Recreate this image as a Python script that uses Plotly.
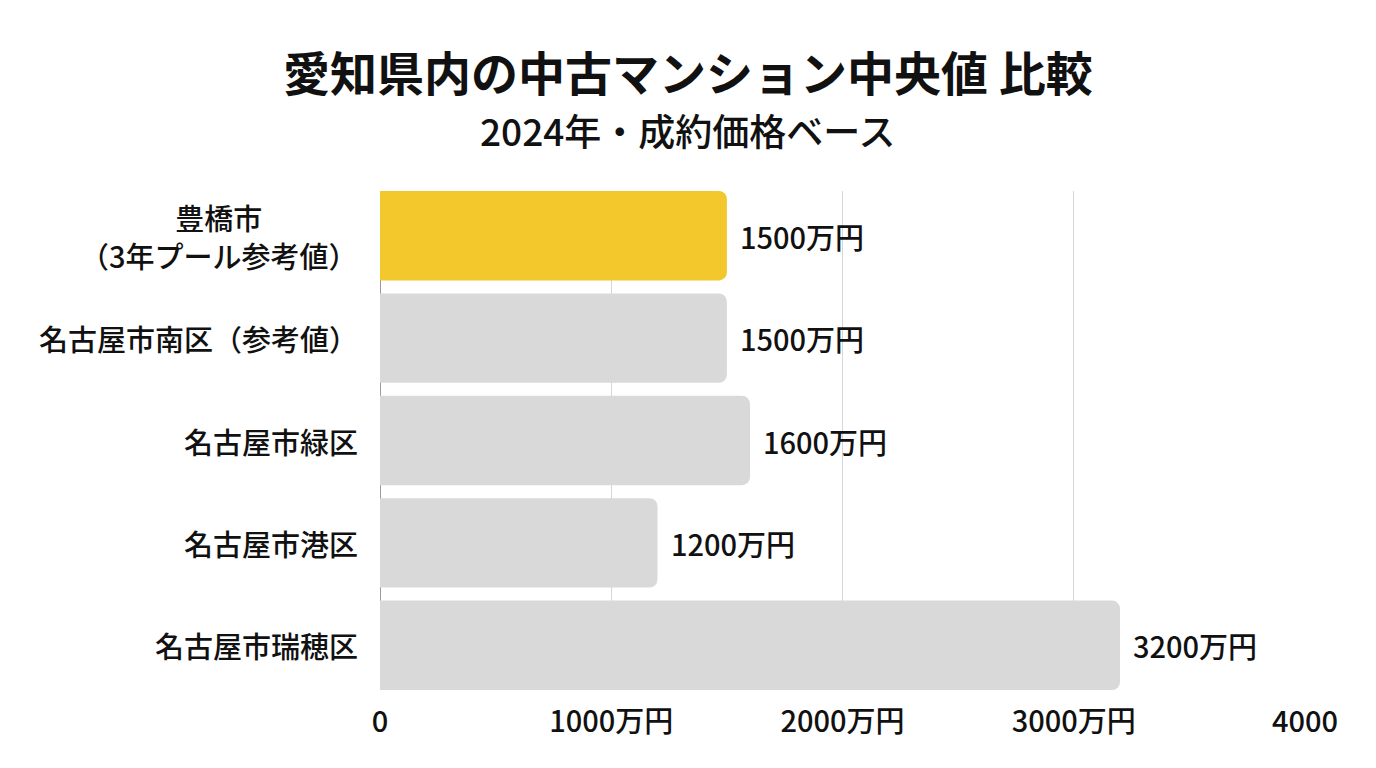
import plotly.graph_objects as go

# data
areas = ['豊橋市<br>（3年プール参考値）', '名古屋市南区（参考値）', '名古屋市緑区', '名古屋市港区', '名古屋市瑞穂区']
prices = [1500, 1500, 1600, 1200, 3200]
price_labels = ['1500万円', '1500万円', '1600万円', '1200万円', '3200万円']
tick_vals = [0, 1000, 2000, 3000, 4000]
tick_text = ['0', '1000万円', '2000万円', '3000万円', '4000']
title = '愛知県内の中古マンション中央値 比較'
subtitle = '2024年・成約価格ベース'

FONT = 'Noto Sans CJK JP, Noto Sans, sans-serif'
INK = '#111111'
bar_colors = ['#F2C82C'] + ['#D9D9D9'] * (len(areas) - 1)
bargap = 0.127
half = (1 - bargap) / 2

# page body adds 8px, so margins are set 8px short on the left/top
L, R, T, B = 372, 79, 183, 86
plot_w = 1376 - L - R
plot_h = 768 - T - B

fig = go.Figure()
fig.add_trace(go.Bar(x=prices, y=list(range(len(areas))), orientation='h',
                     marker=dict(color=bar_colors, cornerradius=8, line=dict(width=0)),
                     hoverinfo='x', showlegend=False))

# value labels right of the bars
for i, (p, lab) in enumerate(zip(prices, price_labels)):
    fig.add_annotation(x=p, y=i, text=lab, showarrow=False, xanchor='left', xshift=11,
                       font=dict(size=29, color=INK, family=FONT, weight=500))

# category labels, centred lines like the reference
for i, name in enumerate(areas):
    fig.add_annotation(x=0, y=i, xref='paper', text=name, showarrow=False,
                       xanchor='right', xshift=-20, align='center',
                       font=dict(size=29, color=INK, family=FONT, weight=500))

title_x = (680 - L) / plot_w
fig.add_annotation(x=title_x, y=1 + (T - 62) / plot_h, xref='paper', yref='paper', text=title,
                   showarrow=False, xanchor='center', yanchor='middle',
                   font=dict(size=47, color=INK, family=FONT, weight=700))
fig.add_annotation(x=title_x, y=1 + (T - 122) / plot_h, xref='paper', yref='paper', text=subtitle,
                   showarrow=False, xanchor='center', yanchor='middle',
                   font=dict(size=37, color=INK, family=FONT, weight=500))

fig.update_layout(
    width=1376, height=768,
    paper_bgcolor='white', plot_bgcolor='white',
    margin=dict(l=L, r=R, t=T, b=B, autoexpand=False),
    bargap=bargap,
    font=dict(family=FONT, color=INK),
)
fig.update_xaxes(range=[0, 4000], tickvals=tick_vals, ticktext=tick_text,
                 showgrid=True, gridcolor='#D6D6D6', gridwidth=1,
                 zeroline=True, zerolinecolor='#9A9A9A', zerolinewidth=1,
                 showline=False, ticklabelstandoff=12, automargin=False,
                 tickfont=dict(size=29, color=INK, family=FONT, weight=500))
fig.update_yaxes(range=[len(areas) - 1 + half, -half],
                 tickvals=list(range(len(areas))), showticklabels=False,
                 showgrid=False, zeroline=False, showline=False, automargin=False)

fig.write_html("out.html")
